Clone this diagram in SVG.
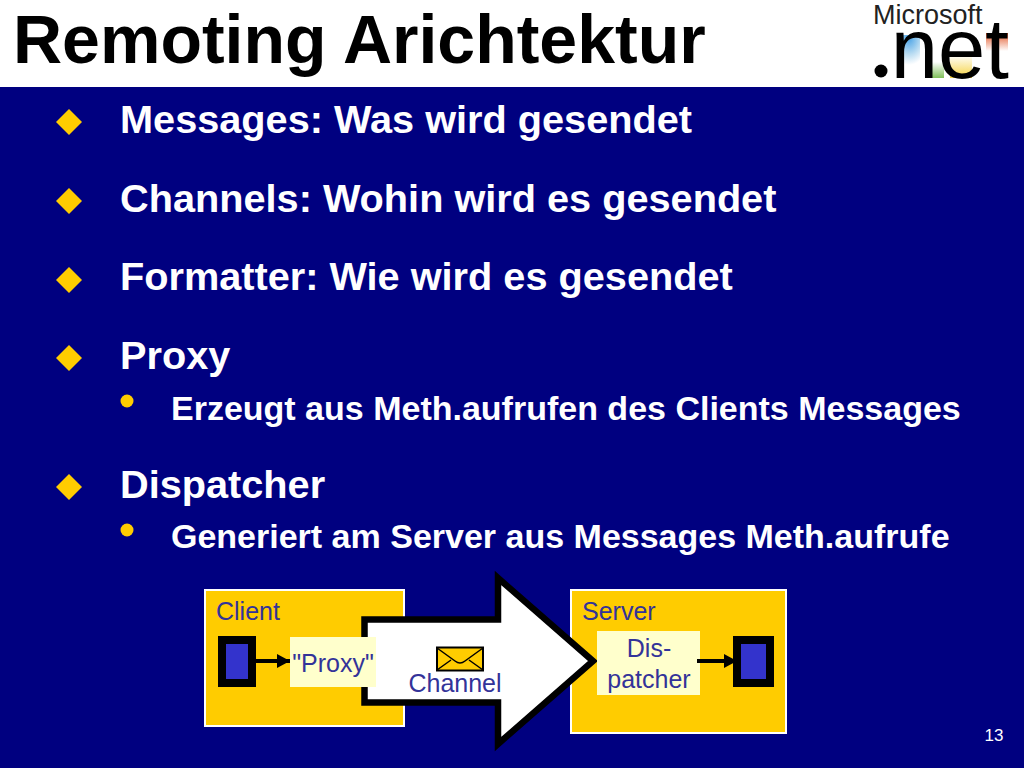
<svg xmlns="http://www.w3.org/2000/svg" width="1024" height="768" viewBox="0 0 1024 768">
<style>
text{font-family:"Liberation Sans",Arial,sans-serif}
.h{font-weight:bold;font-size:39.7px;fill:#fff}
.s{font-weight:bold;font-size:34px;fill:#fff}
.d{font-size:25px;fill:#333399}
.box{fill:#ffcc00;stroke:#fff;stroke-width:2}
.lab{fill:#ffffcc}
.obj{fill:#3333cc;stroke:#000;stroke-width:8}
.c{stroke:#000;stroke-width:4;fill:none;marker-end:url(#a)}
</style>
<defs>
<marker id="a" markerUnits="userSpaceOnUse" markerWidth="14" markerHeight="16" refX="13" refY="8" orient="auto"><path d="M0 1L13 8L0 15Z" fill="#000"/></marker>
<path id="b" d="M0-13L13 0L0 13L-13 0Z" fill="#ffcc00"/>
<radialGradient id="blue" cx=".5" cy=".1" r=".9"><stop offset="0" stop-color="#4aa3e6"/><stop offset=".6" stop-color="#b9dcf2"/><stop offset="1" stop-color="#fff"/></radialGradient>
<linearGradient id="green" x1="0" y1="0" x2="0" y2="1"><stop offset="0" stop-color="#fff"/><stop offset="1" stop-color="#7fbf5a"/></linearGradient>
<linearGradient id="yellow" x1="0" y1="0" x2="0" y2="1"><stop offset="0" stop-color="#fff"/><stop offset="1" stop-color="#f5d240"/></linearGradient>
<linearGradient id="red" x1="0" y1="0" x2="0" y2="1"><stop offset="0" stop-color="#e2582a"/><stop offset="1" stop-color="#fff"/></linearGradient>
</defs>
<rect width="1024" height="768" fill="#000080"/>
<rect width="1024" height="87" fill="#fff"/>
<text x="13" y="63" font-size="68" font-weight="bold" fill="#000">Remoting Arichtektur</text>
<g id="logo">
<rect x="898" y="35" width="22" height="30" fill="url(#blue)"/>
<rect x="926" y="62" width="18" height="16" fill="url(#green)"/>
<rect x="950" y="55" width="22" height="23" fill="url(#yellow)"/>
<rect x="986" y="33" width="22" height="18" fill="url(#red)"/>
<text x="873" y="24" font-size="27" fill="#222">Microsoft</text>
<text x="867" y="77.5" font-size="85" fill="#000"><tspan fill="#fff">.</tspan>net</text>
<circle cx="881" cy="71" r="6.5" fill="#000"/>
</g>
<g id="bullets">
<use href="#b" x="69" y="122"/><text class="h" x="120" y="133">Messages: Was wird gesendet</text>
<use href="#b" x="69" y="201"/><text class="h" x="120" y="212">Channels: Wohin wird es gesendet</text>
<use href="#b" x="69" y="280"/><text class="h" x="120" y="290">Formatter: Wie wird es gesendet</text>
<use href="#b" x="69" y="358"/><text class="h" x="120" y="369">Proxy</text>
<circle cx="127" cy="401" r="6.5" fill="#ffcc00"/><text class="s" x="171" y="420">Erzeugt aus Meth.aufrufen des Clients Messages</text>
<use href="#b" x="69" y="487"/><text class="h" x="120" y="498">Dispatcher</text>
<circle cx="127" cy="530" r="6.5" fill="#ffcc00"/><text class="s" x="171" y="548">Generiert am Server aus Messages Meth.aufrufe</text>
</g>
<g id="client">
<rect class="box" x="205" y="590" width="199" height="136"/>
<text class="d" x="216" y="620">Client</text>
<rect class="obj" x="222" y="640" width="30" height="43"/>
</g>
<g id="server">
<rect class="box" x="571" y="590" width="215" height="143"/>
<text class="d" x="582" y="620">Server</text>
<rect class="obj" x="737" y="640" width="33" height="43"/>
</g>
<g id="channel">
<path d="M364.5 619.5H498V578L593 661L498 744V702.5H364.5Z" fill="#fff" stroke="#000" stroke-width="6.5" stroke-miterlimit="10"/>
<rect x="437" y="647.5" width="46" height="23" fill="#ffcc00" stroke="#000" stroke-width="2"/>
<path d="M437 648L455 661Q460 665 465 661L483 648M437 670L451 660M483 670L469 660" fill="none" stroke="#000" stroke-width="1.5"/>
<text class="d" x="455" y="692" text-anchor="middle">Channel</text>
</g>
<g id="proxy">
<rect class="lab" x="290" y="637" width="86" height="50"/>
<text class="d" x="333" y="672" text-anchor="middle">"Proxy"</text>
</g>
<g id="dispatcher">
<rect class="lab" x="597" y="631" width="103" height="64"/>
<text class="d" x="649" y="657" text-anchor="middle">Dis-</text>
<text class="d" x="649" y="688" text-anchor="middle">patcher</text>
</g>
<g id="connectors">
<path class="c" d="M254 661H290"/>
<path class="c" d="M697 661H737"/>
</g>
<text x="994" y="741" font-size="17" fill="#fff" text-anchor="middle">13</text>
</svg>
